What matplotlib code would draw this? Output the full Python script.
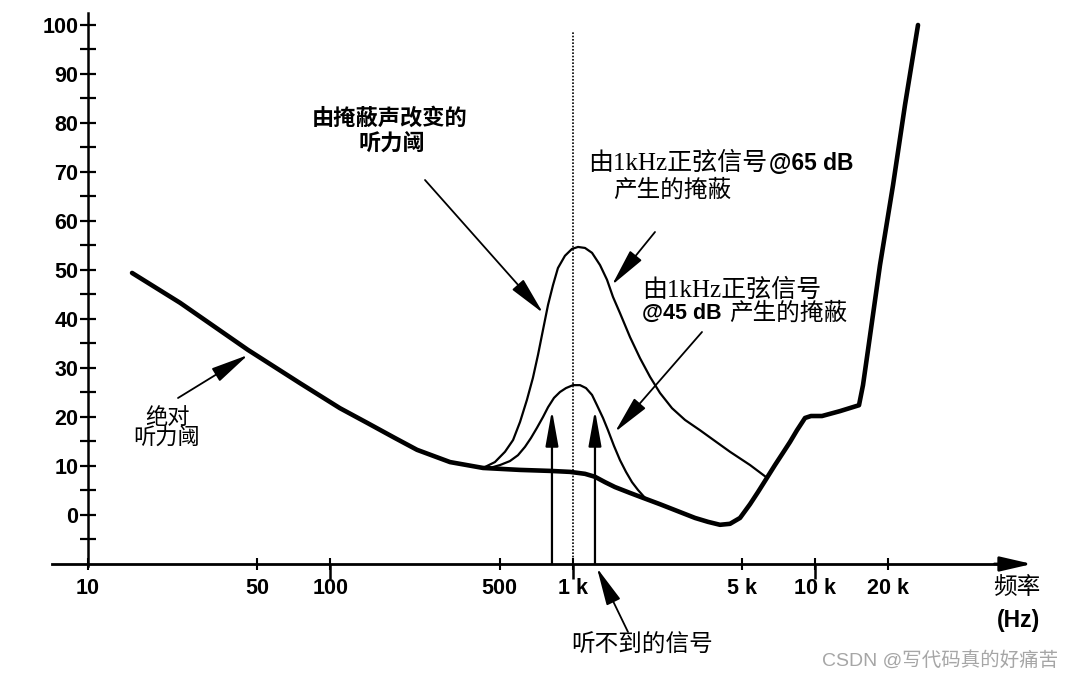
import matplotlib.pyplot as plt
from matplotlib.ticker import FixedLocator, NullFormatter

W, H = 1073, 679
CJK = 'Noto Sans CJK SC'

# absolute threshold of hearing (thick curve)
abs_hz = [15.2, 24.0, 45.7, 75.0, 109.6, 142, 185, 228, 312, 427, 607, 806, 976, 1125,
          1237, 1361, 1496, 1726, 1952, 2295, 2775, 3201, 3622, 4058, 4463, 4909, 5398,
          5826, 6343, 6844, 7385, 7893, 8436, 9104, 9636, 10700, 12694, 15205,
          15795, 16568, 18563, 21008, 23546, 26643]
abs_db = [49.4, 43.3, 33.7, 26.9, 21.8, 18.8, 15.7, 13.3, 10.8, 9.6, 9.2, 9.0, 8.8, 8.4,
          7.8, 6.7, 5.7, 4.5, 3.5, 2.2, 0.6, -0.6, -1.4, -2.0, -1.8, -0.6, 2.2,
          4.7, 7.6, 10.2, 12.7, 14.9, 17.3, 19.8, 20.2, 20.2, 21.2, 22.4,
          26.5, 33.7, 51.0, 67.3, 83.7, 100.0]

# threshold shifted by a 1 kHz tone at 65 dB
m65_hz = [427, 478, 526, 568, 607, 648, 686, 720, 755, 792, 830, 870, 930, 994, 1053,
          1125, 1203, 1298, 1387, 1468, 1569, 1726, 1898, 2087, 2295, 2572, 2910,
          3356, 3869, 4463, 5398, 6343]
m65_db = [9.6, 10.8, 12.9, 15.3, 19.0, 23.5, 28.0, 32.7, 37.8, 42.9, 46.9, 50.4, 52.9, 54.3,
          54.7, 54.5, 53.5, 51.0, 48.0, 44.5, 41.2, 36.3, 32.0, 28.2, 24.9, 21.8, 19.4,
          17.3, 15.1, 12.9, 10.2, 7.6]

# threshold shifted by a 1 kHz tone at 45 dB
m45_hz = [456, 502, 551, 595, 636, 673, 713, 755, 792, 838, 887, 939, 1004, 1073, 1136,
          1203, 1261, 1335, 1400, 1482, 1569, 1661, 1759, 1862, 1990]
m45_db = [9.6, 10.2, 11.0, 12.2, 13.9, 15.7, 17.8, 20.0, 22.0, 23.9, 25.1, 25.9, 26.5, 26.5,
          25.9, 24.5, 22.4, 19.8, 17.3, 14.1, 11.2, 8.8, 6.7, 5.1, 3.5]

# inaudible test signals
sig_hz = [822, 1237]
sig_db = [21.4, 21.4]

masker_hz = 1000
masker_top = 98.6

tick_hz = [10, 50, 100, 500, 1000, 5000, 10000, 20000]
tick_labels = ['10', '50', '100', '500', '1 k', '5 k', '10 k', '20 k']
decade_hz = [100, 1000, 10000]
y_major = list(range(0, 101, 10))
y_minor = list(range(-5, 100, 10))


def fx(x):
    return x / W


def fy(y):
    return 1 - y / H


fig = plt.figure(figsize=(W / 100, H / 100), dpi=100)
ax = fig.add_axes([0, 0, 1, 1])
ax.set_xscale('log')
ax.set_xlim(4.334, 116200)
ax.set_ylim(-33.47, 105.1)

# curves
ax.plot(abs_hz, abs_db, color='black', lw=3.3, solid_joinstyle='round', solid_capstyle='round')
ax.plot(m65_hz, m65_db, color='black', lw=1.6, solid_joinstyle='round')
ax.plot(m45_hz, m45_db, color='black', lw=1.6, solid_joinstyle='round')
ax.vlines(masker_hz, -10, masker_top, color='black', lw=1.2, linestyles=(0, (1, 1)))

for f, d in zip(sig_hz, sig_db):
    ax.annotate('', xy=(f, d), xytext=(f, -10),
                arrowprops=dict(arrowstyle='-|>,head_length=1.45,head_width=0.26',
                                mutation_scale=15, lw=1.6, color='black',
                                shrinkA=0, shrinkB=0))

# axes
for s in ['top', 'right']:
    ax.spines[s].set_visible(False)
ax.spines['left'].set_position(('data', 10))
ax.spines['bottom'].set_position(('data', -10))
ax.spines['left'].set_bounds(-10.5, 102.5)
ax.spines['bottom'].set_bounds(7.1, 70000)
ax.spines['left'].set_linewidth(1.8)
ax.spines['bottom'].set_linewidth(2.0)

ax.annotate('', xy=(78700, -10), xytext=(55000, -10),
            arrowprops=dict(arrowstyle='-|>,head_length=0.78,head_width=0.18',
                            mutation_scale=25, lw=2.0, color='black',
                            shrinkA=0, shrinkB=0))

ax.set_xticks(tick_hz, tick_labels, fontsize=15.5, fontweight='bold', family='Liberation Sans')
ax.xaxis.set_minor_locator(FixedLocator(decade_hz))
ax.xaxis.set_minor_formatter(NullFormatter())
ax.xaxis.remove_overlapping_locs = False
ax.tick_params(axis='x', which='major', direction='inout', length=8, width=1.5, pad=6)
ax.tick_params(axis='x', which='minor', direction='out', length=11, width=1.8)

ax.set_yticks(y_major, [str(v) for v in y_major], fontsize=15.5, fontweight='bold',
              family='Liberation Sans')
ax.yaxis.set_minor_locator(FixedLocator(y_minor))
ax.tick_params(axis='y', which='both', direction='inout', length=11, width=1.6, pad=1.5)

# annotation arrows (pixel positions of the drawing)
arrows = [((425, 180), (543, 313)), ((655, 232), (612, 285)), ((702, 332), (615, 432)),
          ((178, 398), (248, 355)), ((628, 632), (597, 568))]
for (x0, y0), (x1, y1) in arrows:
    ax.annotate('', xy=(fx(x1), fy(y1)), xytext=(fx(x0), fy(y0)),
                xycoords='figure fraction', textcoords='figure fraction',
                arrowprops=dict(arrowstyle='-|>,head_length=1.3,head_width=0.26',
                                mutation_scale=18, lw=1.3, color='black',
                                shrinkA=0, shrinkB=0))

# labels
serif_cjk = ['Liberation Serif', CJK]
fig.text(fx(390), fy(118), '由掩蔽声改变的', fontsize=16, fontweight='bold', family=[CJK],
         ha='center', va='center')
fig.text(fx(392), fy(143), '听力阈', fontsize=16, fontweight='bold', family=[CJK],
         ha='center', va='center')

fig.text(fx(588), fy(163), '由1kHz正弦信号', fontsize=18, family=serif_cjk, fontweight='light',
         ha='left', va='center')
fig.text(fx(769), fy(163), '@65 dB', fontsize=16.5, family='Liberation Sans', fontweight='bold',
         ha='left', va='center')
fig.text(fx(613), fy(190), '产生的掩蔽', fontsize=17, family=[CJK], fontweight='light',
         ha='left', va='center')

fig.text(fx(642), fy(290), '由1kHz正弦信号', fontsize=18, family=serif_cjk, fontweight='light',
         ha='left', va='center')
fig.text(fx(642), fy(313), '@45 dB', fontsize=15.5, family='Liberation Sans', fontweight='bold',
         ha='left', va='center')
fig.text(fx(729), fy(313), '产生的掩蔽', fontsize=17, family=[CJK], fontweight='light',
         ha='left', va='center')

fig.text(fx(167), fy(417), '绝对', fontsize=16, family=[CJK], ha='center', va='center')
fig.text(fx(167), fy(438), '听力阈', fontsize=16, family=[CJK], ha='center', va='center')

fig.text(fx(642), fy(645), '听不到的信号', fontsize=17, family=[CJK], ha='center', va='center')

fig.text(fx(1017), fy(587), '频率', fontsize=17, family=[CJK], ha='center', va='center')
fig.text(fx(1019), fy(620), '(Hz)', fontsize=16.5, family='Liberation Sans', fontweight='bold',
         ha='center', va='center')

fig.text(fx(1058), fy(660), 'CSDN @写代码真的好痛苦', fontsize=14, color='#a6a6a6',
         family=['Liberation Sans', CJK], ha='right', va='center')

fig.savefig('out.png', dpi=100)
